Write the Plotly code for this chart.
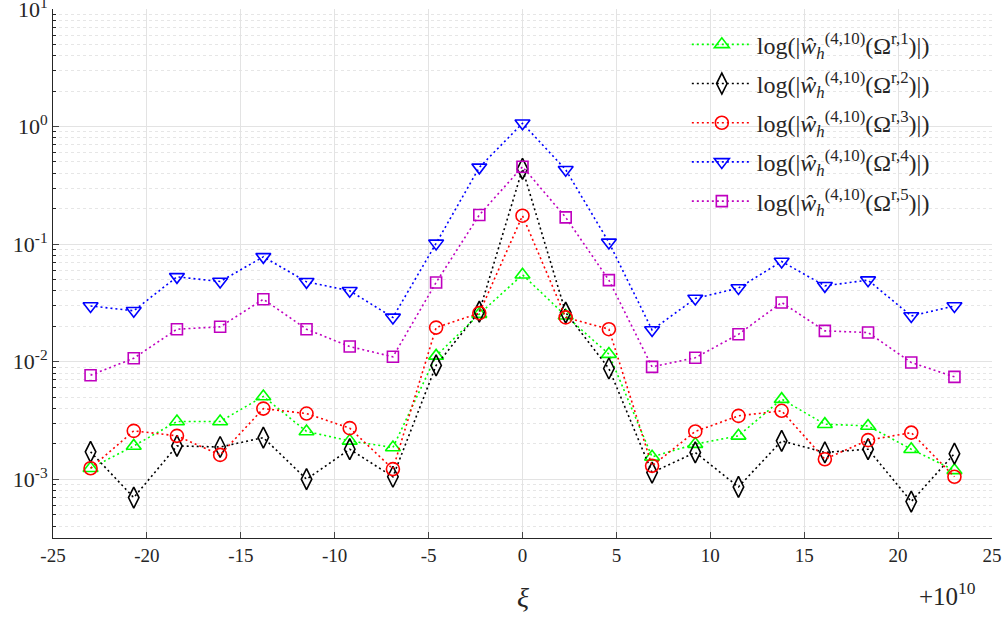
import plotly.graph_objects as go

# x offsets from 1e10
xi = [-23.0, -20.7, -18.4, -16.1, -13.8, -11.5, -9.2, -6.9, -4.6, -2.3, 0.0,
      2.3, 4.6, 6.9, 9.2, 11.5, 13.8, 16.1, 18.4, 20.7, 23.0]

omega1 = [0.00124, 0.00192, 0.0031, 0.0031, 0.00506, 0.00255, 0.00212, 0.00186, 0.0112, 0.0254, 0.0549,
          0.0246, 0.0116, 0.00155, 0.00199, 0.00234, 0.0048, 0.00294, 0.00284, 0.0018, 0.00119]
omega2 = [0.00171, 0.000698, 0.00192, 0.00188, 0.00226, 0.001, 0.0018, 0.00105, 0.0093, 0.0267, 0.436,
          0.0262, 0.00875, 0.00114, 0.00169, 0.00086, 0.00212, 0.00169, 0.0018, 0.000646, 0.00165]
omega3 = [0.00124, 0.00258, 0.00234, 0.00161, 0.00399, 0.00362, 0.00272, 0.00122, 0.0195, 0.0259, 0.1746,
          0.0238, 0.0189, 0.0013, 0.00255, 0.00346, 0.00382, 0.00148, 0.00215, 0.00249, 0.00105]
omega4 = [0.0298, 0.0271, 0.0527, 0.0481, 0.078, 0.0478, 0.0401, 0.0238, 0.1015, 0.45, 1.067,
          0.43, 0.1035, 0.0186, 0.0345, 0.0423, 0.0712, 0.0442, 0.0494, 0.0245, 0.0298]
omega5 = [0.00767, 0.0107, 0.0189, 0.0198, 0.034, 0.0189, 0.01346, 0.011, 0.0472, 0.177, 0.456,
          0.169, 0.0494, 0.00904, 0.0108, 0.0171, 0.0319, 0.0183, 0.0177, 0.00984, 0.00743]

names = [
    "log(|<i>ŵ</i><sub><i>h</i></sub><sup>(4,10)</sup>(Ω<sup>r,1</sup>)|)",
    "log(|<i>ŵ</i><sub><i>h</i></sub><sup>(4,10)</sup>(Ω<sup>r,2</sup>)|)",
    "log(|<i>ŵ</i><sub><i>h</i></sub><sup>(4,10)</sup>(Ω<sup>r,3</sup>)|)",
    "log(|<i>ŵ</i><sub><i>h</i></sub><sup>(4,10)</sup>(Ω<sup>r,4</sup>)|)",
    "log(|<i>ŵ</i><sub><i>h</i></sub><sup>(4,10)</sup>(Ω<sup>r,5</sup>)|)",
]
series = [omega1, omega2, omega3, omega4, omega5]
colors = ["#00FF00", "#000000", "#FF0000", "#0000FF", "#BF00BF"]
symbols = ["triangle-up-open", "diamond-tall-open", "circle-open", "triangle-down-open", "square-open"]
sizes = [13, 15, 13, 13, 11]

y_major = [1e-3, 1e-2, 1e-1, 1e0, 1e1]
y_major_text = ["10<sup>-3</sup>", "10<sup>-2</sup>", "10<sup>-1</sup>", "10<sup>0</sup>", "10<sup>1</sup>"]
x_ticks = [-25, -20, -15, -10, -5, 0, 5, 10, 15, 20, 25]
x_tick_text = ["-25", "-20", "-15", "-10", "-5", "0", "5", "10", "15", "20", "25"]

SERIF = "Liberation Serif"

fig = go.Figure()
for k, (nm, ys, c, s, sz) in enumerate(zip(names, series, colors, symbols, sizes)):
    fig.add_trace(go.Scatter(
        x=xi, y=ys, name=nm, mode="lines+markers", legendgroup=f"g{k}",
        line=dict(color=c, width=1.6, dash="2px,3px"),
        marker=dict(symbol=s, size=sz, color=c, line=dict(color=c, width=1.6)),
    ))

minor_vals = [m * 10 ** e for e in range(-4, 1) for m in range(2, 10) if 10 ** -3.5 <= m * 10 ** e <= 10]

fig.update_layout(
    width=1006, height=618,
    margin=dict(l=53, r=14, t=9, b=80),
    paper_bgcolor="white", plot_bgcolor="white",
    font=dict(family=SERIF, color="#262626", size=19),
    showlegend=True,
    legend=dict(x=0.675, y=0.975, xanchor="left", yanchor="top",
                bgcolor="rgba(0,0,0,0)", borderwidth=0,
                font=dict(family=SERIF, size=24, color="#262626"), tracegroupgap=5, itemwidth=60),
    xaxis=dict(range=[-25, 25], tickvals=x_ticks, ticktext=x_tick_text, ticks="inside", ticklen=6,
               showline=True, linecolor="#262626", linewidth=1, mirror=False, automargin=False,
               showgrid=True, gridcolor="#E3E3E3", gridwidth=1, zeroline=False,
               ticklabeloverflow="allow", tickfont=dict(family=SERIF, size=19)),
    yaxis=dict(type="log", range=[-3.5, 1.0005], tickvals=y_major, ticktext=y_major_text,
               ticks="inside", ticklen=6, showline=True, linecolor="#262626", linewidth=1,
               mirror=False, automargin=False, showgrid=True, gridcolor="#E3E3E3", gridwidth=1,
               zeroline=False, ticklabeloverflow="allow", tickfont=dict(family=SERIF, size=22),
               minor=dict(tickvals=minor_vals, ticks="inside", ticklen=3, tickcolor="#262626",
                          showgrid=True, gridcolor="#E6E6E6", griddash="dot", gridwidth=1)),
)

fig.add_annotation(text="<i>ξ</i>", x=0.5, y=-0.112, xref="paper", yref="paper",
                   showarrow=False, font=dict(family=SERIF, size=28, color="#262626"), yanchor="middle")
fig.add_annotation(text="+10<sup>10</sup>", x=0.985, y=-0.105, xref="paper", yref="paper",
                   showarrow=False, font=dict(family=SERIF, size=25, color="#262626"),
                   xanchor="right", yanchor="middle")

fig.write_html("out.html", config={"displayModeBar": False},
               post_script="document.body.style.margin='0';document.body.style.overflow='hidden';")
